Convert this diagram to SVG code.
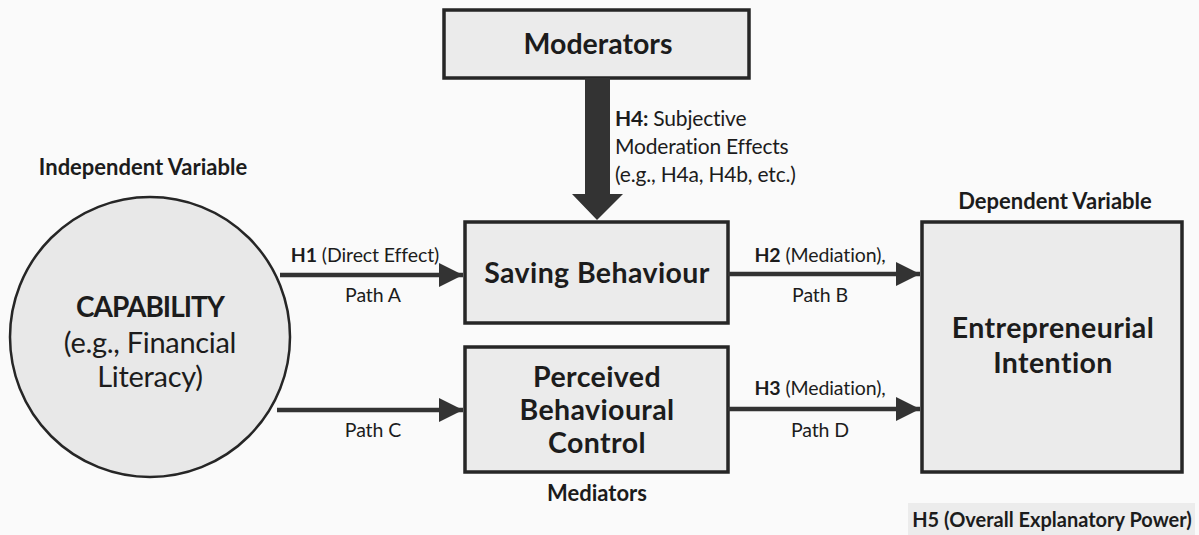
<svg xmlns="http://www.w3.org/2000/svg" width="1199" height="535" viewBox="0 0 1199 535">
<defs>
<marker id="ah" markerUnits="userSpaceOnUse" markerWidth="26" markerHeight="24" refX="24" refY="12" orient="auto">
<path d="M0,0 L24,12 L0,24 Z" fill="#333"/>
</marker>
</defs>
<style>
.box{fill:#ebebeb;stroke:#262626;stroke-width:3.5}
.t{font-family:Lato,"Open Sans",sans-serif;fill:#1c1c1c;text-anchor:middle}
.big{font-size:28.5px;font-weight:700;letter-spacing:0.4px}
.lab{font-size:22px;font-weight:700;letter-spacing:0px}
.sm{font-size:19.5px;letter-spacing:-0.1px}
.h4{font-size:21px;letter-spacing:-0.2px;text-anchor:start}
.conn{stroke:#333;stroke-width:4.5;fill:none}
</style>
<rect width="1199" height="535" fill="#fafafa"/>
<g id="moderators">
<rect class="box" x="444" y="10" width="305" height="68"/>
<text class="t big" style="letter-spacing:0" x="598" y="54">Moderators</text>
</g>
<g id="capability">
<text class="t lab" x="143" y="175">Independent Variable</text>
<circle cx="150" cy="337" r="140" fill="#e8e8e8" stroke="#262626" stroke-width="2.5"/>
<text class="t big" style="font-size:28px;letter-spacing:-1px" x="150" y="317">CAPABILITY</text>
<text class="t" x="150" y="353" style="font-size:29px;letter-spacing:-0.3px">(e.g., Financial</text>
<text class="t" x="150" y="387" style="font-size:29px;letter-spacing:-0.3px">Literacy)</text>
</g>
<g id="saving">
<rect class="box" x="465" y="222" width="263" height="101"/>
<text class="t big" x="597" y="283">Saving Behaviour</text>
</g>
<g id="pbc">
<rect class="box" x="465" y="347" width="263" height="125"/>
<text class="t big" x="597" y="387">Perceived</text>
<text class="t big" x="597" y="420">Behavioural</text>
<text class="t big" x="597" y="453">Control</text>
<text class="t lab" x="597" y="501">Mediators</text>
</g>
<g id="intention">
<text class="t lab" x="1055" y="209">Dependent Variable</text>
<rect class="box" x="922" y="222" width="260" height="250"/>
<text class="t big" x="1053" y="338">Entrepreneurial</text>
<text class="t big" x="1053" y="373">Intention</text>
</g>
<g id="h5">
<rect x="908" y="503" width="287" height="32" fill="#ececec"/>
<text class="t lab" style="font-size:20px" x="1052" y="527">H5 (Overall Explanatory Power)</text>
</g>
<g id="connectors">
<polygon points="585,78 610,78 610,194 623,194 597,220 572,194 585,194" fill="#333"/>
<line class="conn" x1="280" y1="275" x2="463" y2="275" marker-end="url(#ah)"/>
<line class="conn" x1="277" y1="410" x2="463" y2="410" marker-end="url(#ah)"/>
<line class="conn" x1="728" y1="274" x2="920" y2="274" marker-end="url(#ah)"/>
<line class="conn" x1="728" y1="409" x2="920" y2="409" marker-end="url(#ah)"/>
<text class="t h4" x="615" y="126"><tspan font-weight="700">H4:</tspan> Subjective</text>
<text class="t h4" x="615" y="154">Moderation Effects</text>
<text class="t h4" x="615" y="182">(e.g., H4a, H4b, etc.)</text>
<text class="t sm" x="365" y="262"><tspan font-weight="700">H1</tspan> (Direct Effect)</text>
<text class="t sm" x="373" y="302">Path A</text>
<text class="t sm" x="373" y="437">Path C</text>
<text class="t sm" x="820" y="262"><tspan font-weight="700">H2</tspan> (Mediation),</text>
<text class="t sm" x="820" y="302">Path B</text>
<text class="t sm" x="820" y="395"><tspan font-weight="700">H3</tspan> (Mediation),</text>
<text class="t sm" x="820" y="437">Path D</text>
</g>
</svg>
